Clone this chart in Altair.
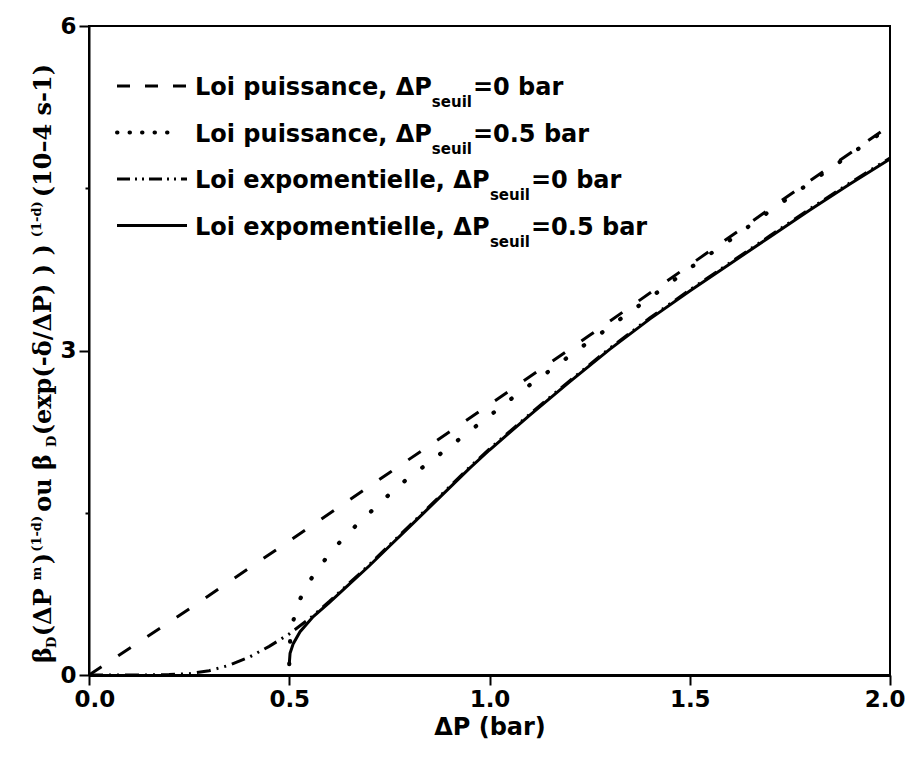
import altair as alt
import pandas as pd

# ---------------- data ----------------
dashed_x = [0.0, 0.25, 0.5, 0.75, 1.0, 1.25, 1.5, 1.75, 2.0]
dashed_y = [0.0, 0.61, 1.24, 1.87, 2.50, 3.14, 3.79, 4.44, 5.08]

dotted_x = [0.5, 0.5025, 0.51, 0.523, 0.544, 0.571, 0.607, 0.644, 0.686, 0.73, 0.77, 0.815,
            0.86, 0.90, 0.944, 0.99, 1.03, 1.07, 1.115, 1.16, 1.2, 1.244, 1.29, 1.33, 1.375,
            1.42, 1.5, 1.6, 1.7, 1.8, 1.9, 2.0]
dotted_y = [0.10, 0.34, 0.50, 0.67, 0.83, 0.98, 1.15, 1.30, 1.45, 1.60, 1.74, 1.87,
            1.995, 2.11, 2.235, 2.37, 2.48, 2.60, 2.72, 2.84, 2.95, 3.07, 3.19, 3.30, 3.42,
            3.54, 3.76, 4.02, 4.29, 4.55, 4.81, 5.07]

dashdot_x = [0.0, 0.05, 0.1, 0.15, 0.2, 0.25, 0.3, 0.35, 0.4, 0.45, 0.5, 0.55, 0.6, 0.65, 0.7,
             0.75, 0.8, 0.85, 0.9, 0.95, 1.0, 1.1, 1.2, 1.3, 1.4, 1.5, 1.6, 1.7, 1.8, 1.9, 2.0]
dashdot_y = [0.0, 0.0, 0.0, 0.001, 0.004, 0.012, 0.04, 0.09, 0.165, 0.265, 0.38, 0.52, 0.68,
             0.85, 1.02, 1.20, 1.38, 1.56, 1.74, 1.92, 2.09, 2.41, 2.72, 3.02, 3.30, 3.56,
             3.81, 4.06, 4.31, 4.55, 4.78]

solid_x = [0.5, 0.502, 0.51, 0.527, 0.56, 0.6, 0.65, 0.7, 0.75, 0.8, 0.85, 0.9, 0.95, 1.0,
           1.1, 1.2, 1.3, 1.4, 1.5, 1.6, 1.7, 1.8, 1.9, 2.0]
solid_y = [0.10, 0.20, 0.29, 0.40, 0.54, 0.67, 0.84, 1.01, 1.19, 1.37, 1.55, 1.73, 1.91, 2.08,
           2.40, 2.71, 3.01, 3.29, 3.55, 3.80, 4.05, 4.30, 4.54, 4.77]

x_ticks = [0.0, 0.5, 1.0, 1.5, 2.0]
y_ticks = [0, 1.5, 3, 4.5, 6]

legend_prefix = ["Loi puissance, \u0394P", "Loi puissance, \u0394P",
                 "Loi expomentielle, \u0394P", "Loi expomentielle, \u0394P"]
legend_sub = ["seuil", "seuil", "seuil", "seuil"]
legend_suffix = ["=0 bar", "=0.5 bar", "=0 bar", "=0.5 bar"]

x_title = "\u0394P (bar)"
# y title pieces: (text, kind) kind: m = main, b = subscript, p = superscript
y_title_parts = [("\u03b2", "m"), ("D", "b"), (" (\u0394P", "m"), ("m", "p"), (")", "m"),
                 ("(1-d)", "p"), (" ou \u03b2", "m"), ("D", "b"),
                 ("(exp(-\u03b4/\u0394P) ) )", "m"), ("(1-d)", "p"),
                 (" (10\u20134 s-1)", "m")]

# ---------------- styling ----------------
W, H = 801, 649
SANS = "DejaVu Sans"
SERIF = "DejaVu Serif"

x_scale = alt.Scale(domain=[0, 2], nice=False, zero=False)
y_scale = alt.Scale(domain=[0, 6], nice=False)

x_axis = alt.Axis(values=x_ticks, format=".1f", grid=False,
                  labelFlush=True, labelFlushOffset=15,
                  labelFont=SANS, labelFontWeight="bold", labelFontSize=23, labelColor="black",
                  labelPadding=3, tickSize=10, tickWidth=2, tickColor="black",
                  domainWidth=3, domainColor="black",
                  title=x_title, titleFont=SANS, titleFontWeight="bold", titleFontSize=24,
                  titleColor="black", titlePadding=4)
y_axis = alt.Axis(values=y_ticks, format=".0f", grid=False,
                  labelExpr="datum.value % 3 == 0 ? datum.label : ''",
                  labelFont=SANS, labelFontWeight="bold", labelFontSize=23, labelColor="black",
                  labelPadding=3,
                  tickSize={"condition": {"test": "datum.value % 3 == 0", "value": 10}, "value": 4},
                  tickWidth=2, tickColor="black", domainWidth=2, domainColor="black",
                  title=None)


def curve(xs, ys, dash=None, cap="butt", width=3):
    df = pd.DataFrame({"x": xs, "y": ys})
    mk = dict(color="black", strokeWidth=width, clip=True, strokeCap=cap)
    if dash:
        mk["strokeDash"] = dash
    return alt.Chart(df).mark_line(**mk).encode(
        x=alt.X("x:Q", scale=x_scale, axis=x_axis),
        y=alt.Y("y:Q", scale=y_scale, axis=y_axis),
        order=alt.Order("x:Q"),
    )


DASH = [15, 20]
DOT = [0.5, 22]
DASHDOT = [14, 6, 2, 6, 2, 6]

layers = [
    curve(dashed_x, dashed_y, DASH),
    curve(dotted_x, dotted_y, DOT, cap="round", width=4.2),
    curve(dashdot_x, dashdot_y, DASHDOT),
    curve(solid_x, solid_y),
]

one = pd.DataFrame({"a": [0]})

# ---------------- legend (drawn by hand because of the subscripts) ----------------
sans_w = {" ": .348, ",": .380, ".": .380, "=": .838, "L": .637, "P": .733, "a": .675,
          "b": .716, "c": .593, "e": .678, "i": .343, "l": .343, "m": 1.042, "n": .712,
          "o": .687, "p": .716, "r": .493, "s": .595, "t": .478, "u": .712, "x": .663,
          "\u0394": .774}


def tw(s, size, table, default=.696):
    return sum(table.get(c, default) for c in s) * size


legend_styles = [dict(strokeDash=[13, 15]),
                 dict(strokeDash=[0.5, 12], strokeCap="round", strokeWidth=4),
                 dict(strokeDash=[13, 5, 2, 5, 2, 5]), dict()]
x0 = 106
for i in range(4):
    base = 69 + 46.5 * i
    st = dict(color="black", strokeWidth=3)
    st.update(legend_styles[i])
    x_end = 80 if i == 1 else 98
    layers.append(alt.Chart(one).mark_rule(**st).encode(
        x=alt.value(28), x2=alt.value(x_end), y=alt.value(base - 9)))
    xp = x0
    for txt, size, dy in [(legend_prefix[i], 24, 0), (legend_sub[i], 15, 12),
                          (legend_suffix[i], 24, 0)]:
        layers.append(alt.Chart(pd.DataFrame({"t": [txt]})).mark_text(
            font=SANS, fontWeight="bold", fontSize=size, color="black",
            align="left", baseline="alphabetic").encode(
            x=alt.value(xp), y=alt.value(base + dy), text="t:N"))
        xp += tw(txt, size, sans_w) + (1 if size == 15 else 0)

# ---------------- y title (rotated, with sub/superscripts) ----------------
serif_w = {" ": .348, "(": .53, ")": .53, "-": .415, "/": .365, "D": .838, "P": .70,
           "e": .678, "x": .71, "p": .73, "m": 1.05, "o": .687, "u": .73, "s": .595,
           "d": .73, "\u03b2": .64, "\u03b4": .69, "\u0394": .79, "\u2013": .5}
sizes = {"m": 24, "b": 13, "p": 13}
xpos = {"m": -38, "b": -33, "p": -48}
gap_after = {"m": 0, "b": 1, "p": 3}
yp = 637
for txt, kind in y_title_parts:
    layers.append(alt.Chart(pd.DataFrame({"t": [txt]})).mark_text(
        font=SERIF, fontWeight="bold", fontSize=sizes[kind], color="black",
        align="left", baseline="alphabetic", angle=270).encode(
        x=alt.value(xpos[kind]), y=alt.value(yp), text="t:N"))
    yp -= tw(txt, sizes[kind], serif_w) * 0.98 + gap_after[kind]

chart = alt.layer(*layers).properties(
    width=W, height=H,
    autosize=alt.AutoSizeParams(type="none"),
    padding={"left": 81, "top": 18, "right": 15, "bottom": 64},
    background="white",
).configure_view(stroke="black", strokeWidth=2)

chart.save("out.html", embed_options={"renderer": "svg", "actions": False})
